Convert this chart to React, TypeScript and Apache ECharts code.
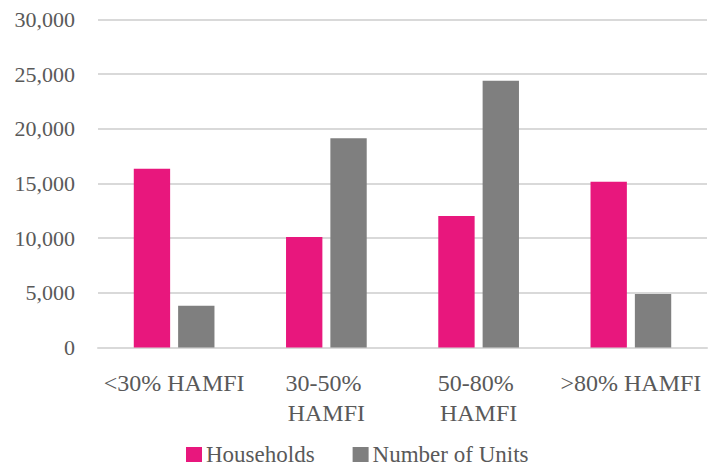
import React, { useEffect, useRef } from "react";
import * as echarts from "echarts";

const categories = ["<30% HAMFI", "30-50% HAMFI", "50-80% HAMFI", ">80% HAMFI"];
const households = [16350, 10100, 12030, 15150];
const units = [3820, 19150, 24400, 4900];
const seriesNames = ["Households", "Number of Units"];

const FONT = "'Liberation Serif', serif";

export default function App() {
  const ref = useRef<HTMLDivElement>(null);
  useEffect(() => {
    if (!ref.current) return;
    const chart = echarts.init(ref.current, null, { renderer: "svg" });
    chart.setOption({
      animation: false,
      textStyle: { fontFamily: FONT },
      grid: { left: 98, right: 1, top: 19.5, bottom: 121.5, containLabel: false },
      legend: {
        top: 443,
        left: 186,
        padding: 0,
        itemWidth: 16,
        itemHeight: 15,
        itemGap: 38,
        icon: "rect",
        textStyle: { fontFamily: FONT, fontSize: 23, color: "#595959", padding: [0, 0, 0, -1] },
        data: seriesNames,
      },
      xAxis: {
        type: "category",
        data: categories,
        axisLine: { lineStyle: { color: "#d9d9d9", width: 2 } },
        axisTick: { show: false },
        axisLabel: {
          fontFamily: FONT,
          fontSize: 24,
          color: "#595959",
          margin: 20,
          width: 145,
          overflow: "break",
          lineHeight: 30,
          interval: 0,
        },
      },
      yAxis: {
        type: "value",
        min: 0,
        max: 30000,
        interval: 5000,
        axisLine: { show: false },
        axisTick: { show: false },
        splitLine: { lineStyle: { color: "#d9d9d9", width: 2 } },
        axisLabel: {
          fontFamily: FONT,
          fontSize: 22,
          color: "#595959",
          margin: 23,
          formatter: (v: number) => v.toLocaleString("en-US"),
        },
      },
      series: [
        {
          name: seriesNames[0],
          type: "bar",
          data: households,
          itemStyle: { color: "#E8177D" },
          barGap: "22%",
          barCategoryGap: "47%",
        },
        {
          name: seriesNames[1],
          type: "bar",
          data: units,
          itemStyle: { color: "#7F7F7F" },
        },
      ],
    });
    return () => chart.dispose();
  }, []);
  return <div ref={ref} style={{ position: "absolute", left: 0, top: 0, width: 708, height: 469 }} />;
}
